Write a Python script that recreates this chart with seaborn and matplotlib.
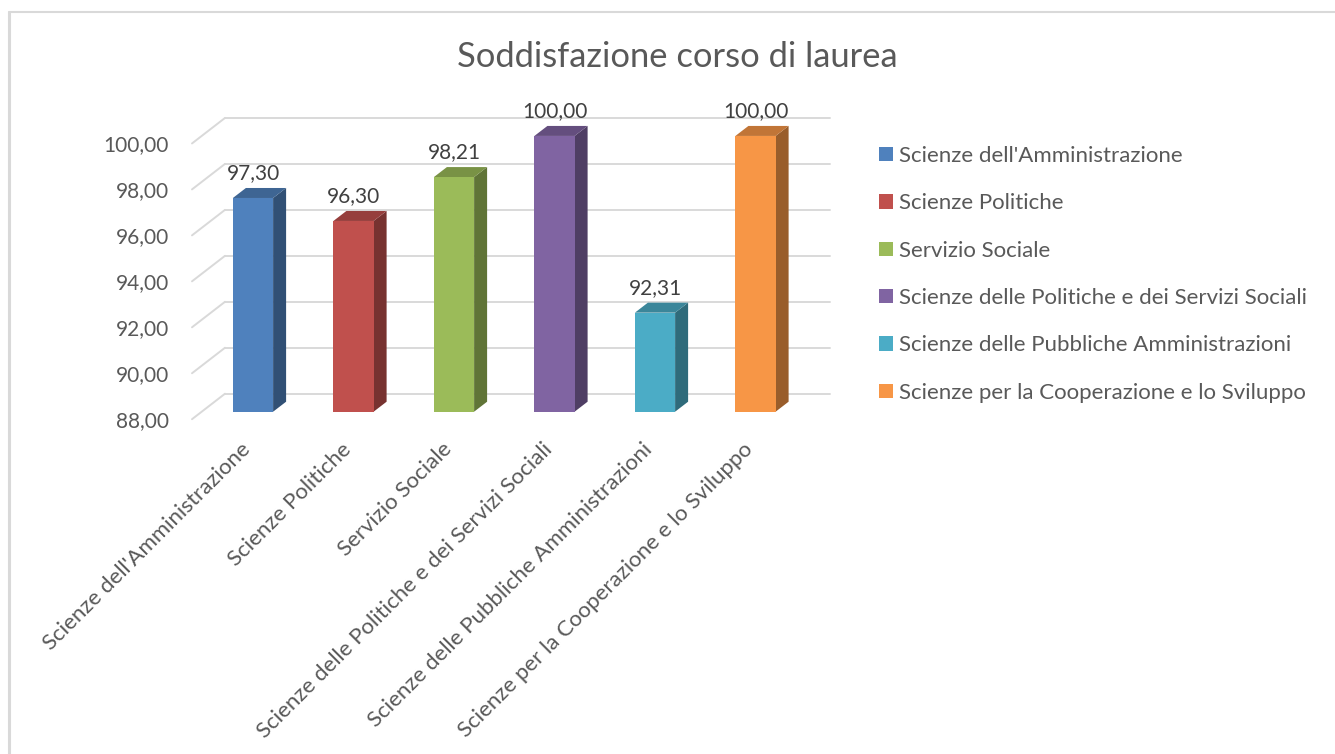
import numpy as np
import pandas as pd
import matplotlib
matplotlib.use("Agg")
import matplotlib.pyplot as plt
import seaborn as sns
from matplotlib.patches import Polygon, Patch
from matplotlib.lines import Line2D
from matplotlib.colors import to_rgb
from matplotlib.transforms import ScaledTranslation

# ---------------- data ----------------
categories = [
    "Scienze dell'Amministrazione",
    "Scienze Politiche",
    "Servizio Sociale",
    "Scienze delle Politiche e dei Servizi Sociali",
    "Scienze delle Pubbliche Amministrazioni",
    "Scienze per la Cooperazione e lo Sviluppo",
]
values = [97.30, 96.30, 98.21, 100.00, 92.31, 100.00]
colors = ["#4F81BD", "#C0504D", "#9BBB59", "#8064A2", "#4BACC6", "#F79646"]
yticks = [88, 90, 92, 94, 96, 98, 100]
title = "Soddisfazione corso di laurea"

# ---------------- style ----------------
sns.set_style("white")
plt.rcParams["font.family"] = ["Lato", "DejaVu Sans"]
TXT = "#595959"
GRID = "#D9D9D9"

W, H = 1335, 754
fig = plt.figure(figsize=(W / 100, H / 100), dpi=100)


def px_rect(x0, y0, x1, y1):
    return [x0 / W, 1 - y1 / H, (x1 - x0) / W, (y1 - y0) / H]


ax = fig.add_axes(px_rect(180, 100, 840, 430))

# pixel -> data unit conversions for the pseudo 3-D look
PX_PER_CAT = 100.5
PX_PER_VAL = 22.98
ux = 1 / PX_PER_CAT
uy = 1 / PX_PER_VAL
base = yticks[0]

df = pd.DataFrame({"cat": categories, "val": values})
sns.barplot(data=df, x="cat", y="val", hue="cat", palette=colors,
            width=0.4, saturation=1, legend=False, linewidth=0, ax=ax, zorder=3)
ax.set_xlim((180 - 253) * ux, (840 - 253) * ux)
ax.set_ylim(base - (430 - 411.7) * uy, base + (411.7 - 100) * uy)

# back wall gridlines + side-wall diagonals
back_dy = 18 * uy
front_dy = -7.5 * uy
x_back0 = (225 - 253) * ux
x_back1 = (830 - 253) * ux
x_front = (192 - 253) * ux
for v in yticks:
    ax.plot([x_back0, x_back1], [v + back_dy, v + back_dy], color=GRID, lw=1.4, zorder=1)
    ax.plot([x_front, x_back0], [v + front_dy, v + back_dy], color=GRID, lw=1.4, zorder=1)

# make bars start at the floor, add side/top faces and labels
dx = 13 * ux
dy = 10 * uy
bars = [p for p in ax.patches if p.get_height() > 0]
for p, col, val in zip(bars, colors, values):
    p.set_y(base)
    p.set_height(val - base)
    x0 = p.get_x()
    w = p.get_width()
    top = val
    rgb = np.array(to_rgb(col))
    side = Polygon([(x0 + w, base), (x0 + w, top), (x0 + w + dx, top + dy), (x0 + w + dx, base + dy)],
                   closed=True, facecolor=rgb * 0.62, edgecolor="none", zorder=2)
    topf = Polygon([(x0, top), (x0 + w, top), (x0 + w + dx, top + dy), (x0 + dx, top + dy)],
                   closed=True, facecolor=rgb * 0.78, edgecolor="none", zorder=2)
    ax.add_patch(side)
    ax.add_patch(topf)
    ax.annotate(f"{val:.2f}".replace(".", ","), xy=(x0 + w / 2, top), xytext=(0, 13.7),
                textcoords="offset points", ha="center", va="baseline",
                fontsize=15, color="#404040", zorder=5)

# y tick labels at the front ends of the wall lines
ax.set_yticks([v + front_dy for v in yticks])
ax.set_yticklabels([f"{v:.2f}".replace(".", ",") for v in yticks])
ax.tick_params(axis="y", length=0, pad=8, labelsize=15, labelcolor=TXT)

ax.set_xticks(range(len(categories)))
ax.set_xticklabels(categories, rotation=45, ha="right", va="top", rotation_mode="anchor")
ax.tick_params(axis="x", length=0, pad=6.5, labelsize=16, labelcolor=TXT)
offset = ScaledTranslation(-9 / 72, 0, fig.dpi_scale_trans)
for lbl in ax.get_xticklabels():
    lbl.set_transform(lbl.get_transform() + offset)

ax.set_xlabel("")
ax.set_ylabel("")
for s in ax.spines.values():
    s.set_visible(False)
ax.set_facecolor("none")

# title
fig.text(677 / W, 1 - 67 / H, title, ha="center", va="baseline", fontsize=24.8, color=TXT)

# legend
handles = [Patch(facecolor=c, edgecolor="none") for c in colors]
fig.legend(handles, categories, loc="upper left", bbox_to_anchor=(879 / W, 1 - 146 / H),
           frameon=False, fontsize=16, labelcolor=TXT, handlelength=0.62, handleheight=0.62,
           handletextpad=0.28, labelspacing=1.23, borderpad=0, borderaxespad=0)

# chart-area border (top and left)
fig.add_artist(Line2D([9 / W, 1], [1 - 11.5 / H, 1 - 11.5 / H], transform=fig.transFigure,
                      color=GRID, lw=1.5))
fig.add_artist(Line2D([9 / W, 9 / W], [0, 1 - 11.5 / H], transform=fig.transFigure,
                      color=GRID, lw=2.2))

fig.savefig("out.png", dpi=100, facecolor="white")
